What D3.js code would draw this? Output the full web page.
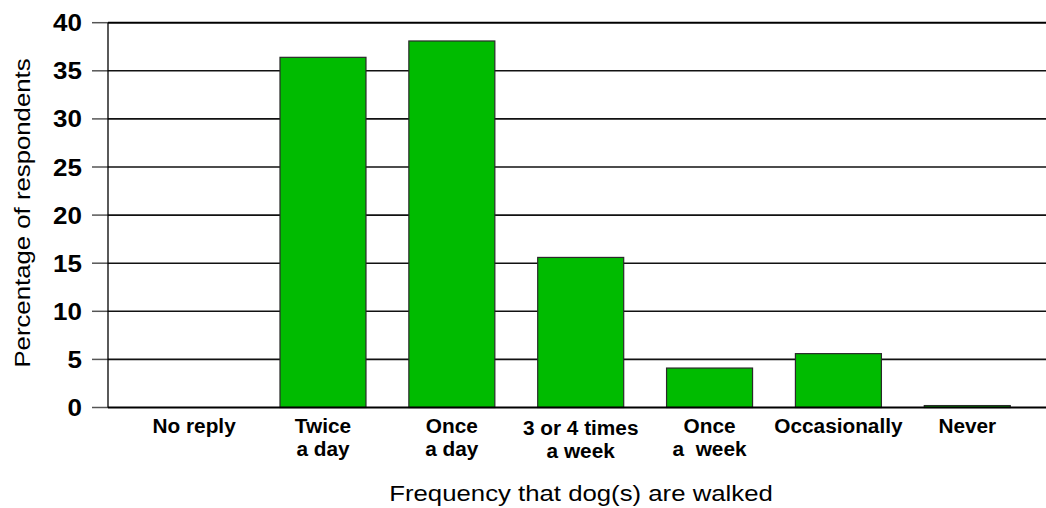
<!DOCTYPE html>
<html>
<head>
<meta charset="utf-8">
<script src="https://cdn.jsdelivr.net/npm/d3@7"></script>
<style>
  html, body { margin: 0; padding: 0; background: #fff; }
  svg { display: block; }
  text { font-family: Arial, 'Liberation Sans', sans-serif; fill: #000; }
</style>
</head>
<body>
<div id="chart"></div>
<script>
// Data
const categories = ['No reply', 'Twice a day', 'Once a day', '3 or 4 times a week', 'Once a week', 'Occasionally', 'Never'];
const categoryLines = [['No reply'], ['Twice', 'a day'], ['Once', 'a day'], ['3 or 4 times', 'a week'], ['Once', 'a  week'], ['Occasionally'], ['Never']];
const percentages = [0, 36.4, 38.1, 15.6, 4.1, 5.6, 0.2];
const yTicks = [0, 5, 10, 15, 20, 25, 30, 35, 40];

const width = 1046, height = 508;
const plot = { left: 108, right: 1046, top: 22.7, bottom: 407.5 };

const svg = d3.select('#chart').append('svg')
    .attr('width', width)
    .attr('height', height);

const x = d3.scaleBand()
    .domain(categories)
    .range([129.7, 1031.7])
    .paddingInner(0.3326)
    .paddingOuter(0.1663);

const y = d3.scaleLinear()
    .domain([0, 40])
    .range([plot.bottom, plot.top]);

// helper: text that is a bit wider than plain Arial (the source font runs wide)
function stretchedText(parent, tx, ty, str, opts) {
    const g = parent.append('g')
        .attr('transform', `translate(${tx},${ty}) rotate(${opts.rotate || 0}) scale(${opts.sx},1)`);
    return g.append('text')
        .attr('text-anchor', opts.anchor || 'middle')
        .style('font-size', opts.size + 'px')
        .style('font-weight', opts.weight || 'normal')
        .style('white-space', 'pre')
        .attr('xml:space', 'preserve')
        .text(str);
}

// gridlines + tick marks
const grid = svg.append('g');
grid.selectAll('line.grid')
    .data(yTicks.filter(t => t > 0))
    .join('line')
    .attr('class', 'grid')
    .attr('x1', plot.left).attr('x2', plot.right)
    .attr('y1', d => y(d)).attr('y2', d => y(d))
    .attr('stroke', d => d === 40 ? '#000' : '#111')
    .attr('stroke-width', d => d === 40 ? 2 : 1.6);

grid.selectAll('line.tick')
    .data(yTicks)
    .join('line')
    .attr('class', 'tick')
    .attr('x1', 92).attr('x2', plot.left)
    .attr('y1', d => y(d)).attr('y2', d => y(d))
    .attr('stroke', '#555')
    .attr('stroke-width', 1.5);

// bars
svg.append('g').selectAll('rect')
    .data(percentages)
    .join('rect')
    .attr('x', (d, i) => x(categories[i]))
    .attr('y', d => y(d))
    .attr('width', x.bandwidth())
    .attr('height', d => y(0) - y(d))
    .attr('fill', '#00bb00')
    .attr('stroke', '#2a2a2a')
    .attr('stroke-width', 1.2);

// axis lines
svg.append('line')
    .attr('x1', plot.left).attr('x2', plot.left)
    .attr('y1', plot.top).attr('y2', plot.bottom)
    .attr('stroke', '#000').attr('stroke-width', 1.3);
svg.append('line')
    .attr('x1', plot.left).attr('x2', plot.right)
    .attr('y1', plot.bottom).attr('y2', plot.bottom)
    .attr('stroke', '#000').attr('stroke-width', 1.8);

// y tick labels
yTicks.forEach(t => {
    stretchedText(svg, 82, y(t) + 8.5, String(t), { size: 23, weight: 'bold', sx: 1.13, anchor: 'end' });
});

// category labels (the long two-line one sits slightly lower in the source)
categoryLines.forEach((lines, i) => {
    const cx = x(categories[i]) + x.bandwidth() / 2;
    const drop = lines.length > 1 && lines[0].length > 10 ? 2 : 0;
    lines.forEach((ln, j) => {
        stretchedText(svg, cx, 433 + drop + j * 23, ln, { size: 20, weight: 'bold', sx: 1.04 });
    });
});

// axis titles
stretchedText(svg, 581, 501, 'Frequency that dog(s) are walked', { size: 23, sx: 1.12 });
stretchedText(svg, 29.5, 213, 'Percentage of respondents', { size: 23, sx: 1.12, rotate: -90 });
</script>
</body>
</html>
